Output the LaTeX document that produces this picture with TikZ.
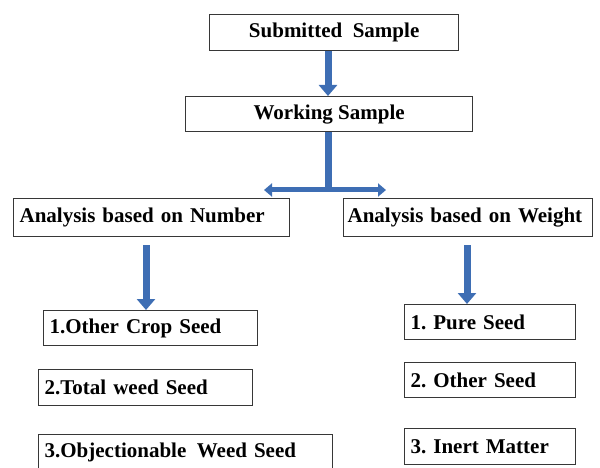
\documentclass[tikz,border=0pt]{standalone}
\usepackage{fontspec}
\setmainfont{Liberation Serif}
\usetikzlibrary{arrows.meta}
\definecolor{arrowblue}{RGB}{62,110,180}
\definecolor{boxline}{RGB}{55,55,55}
\frenchspacing
\begin{document}
\begin{tikzpicture}[x=1pt,y=-1pt,
  box/.style={draw=boxline,line width=1.3pt,rectangle,inner xsep=6pt,inner ysep=0pt,
    font=\fontsize{21}{25}\selectfont\bfseries,anchor=north west},
  cbox/.style={box,align=center},
  lbox/.style={box,align=left},
  bigarrow/.style={draw=arrowblue,line width=7pt,-{Triangle[width=18pt,length=11pt]}},
  barrow/.style={draw=arrowblue,line width=5pt,{Triangle[width=13pt,length=8pt]}-{Triangle[width=13pt,length=8pt]}},
  shaft/.style={draw=arrowblue,line width=7pt}
]
\useasboundingbox (0,0) rectangle (600,468);
\node[cbox,minimum width=249pt,minimum height=36pt] (sub) at (209,14) {Submitted\enspace Sample};
\node[cbox,minimum width=287pt,minimum height=35pt] (work) at (185,96) {Working Sample};
\node[lbox,text width=264pt,minimum height=38pt] (num) at (13,198) {Analysis based on Number};
\node[lbox,inner xsep=4pt,text width=241pt,minimum height=38pt] (wt) at (343,198) {\mbox{Analysis based on Weight}};
\node[lbox,text width=202pt,minimum height=35pt] (oc) at (43,310) {1.Other Crop Seed};
\node[lbox,text width=202pt,minimum height=36pt] (tw) at (38,369) {2.Total weed Seed};
\node[lbox,text width=282pt,minimum height=36pt] (ob) at (38,434) {3.Objectionable\enspace Weed Seed};
\node[lbox,text width=159pt,minimum height=35pt] (ps) at (404,304) {1. Pure Seed};
\node[lbox,text width=159pt,minimum height=35pt] (os) at (404,362) {2. Other Seed};
\node[lbox,text width=159pt,minimum height=36pt] (im) at (404,428) {3. Inert Matter};
% connectors
\coordinate (tee) at (328,190);
\coordinate (teeL) at (264,190);
\coordinate (teeR) at (386,190);
\coordinate (lstart) at (146,245);
\coordinate (rstart) at (467,245);
\draw[bigarrow] (sub.south -| tee) -- (work.north -| tee);
\draw[shaft] (work.south -| tee) -- (tee);
\draw[barrow] (teeL) -- (teeR);
\draw[bigarrow] (lstart) -- (lstart |- oc.north);
\draw[bigarrow] (rstart) -- (rstart |- ps.north);
\end{tikzpicture}
\end{document}
